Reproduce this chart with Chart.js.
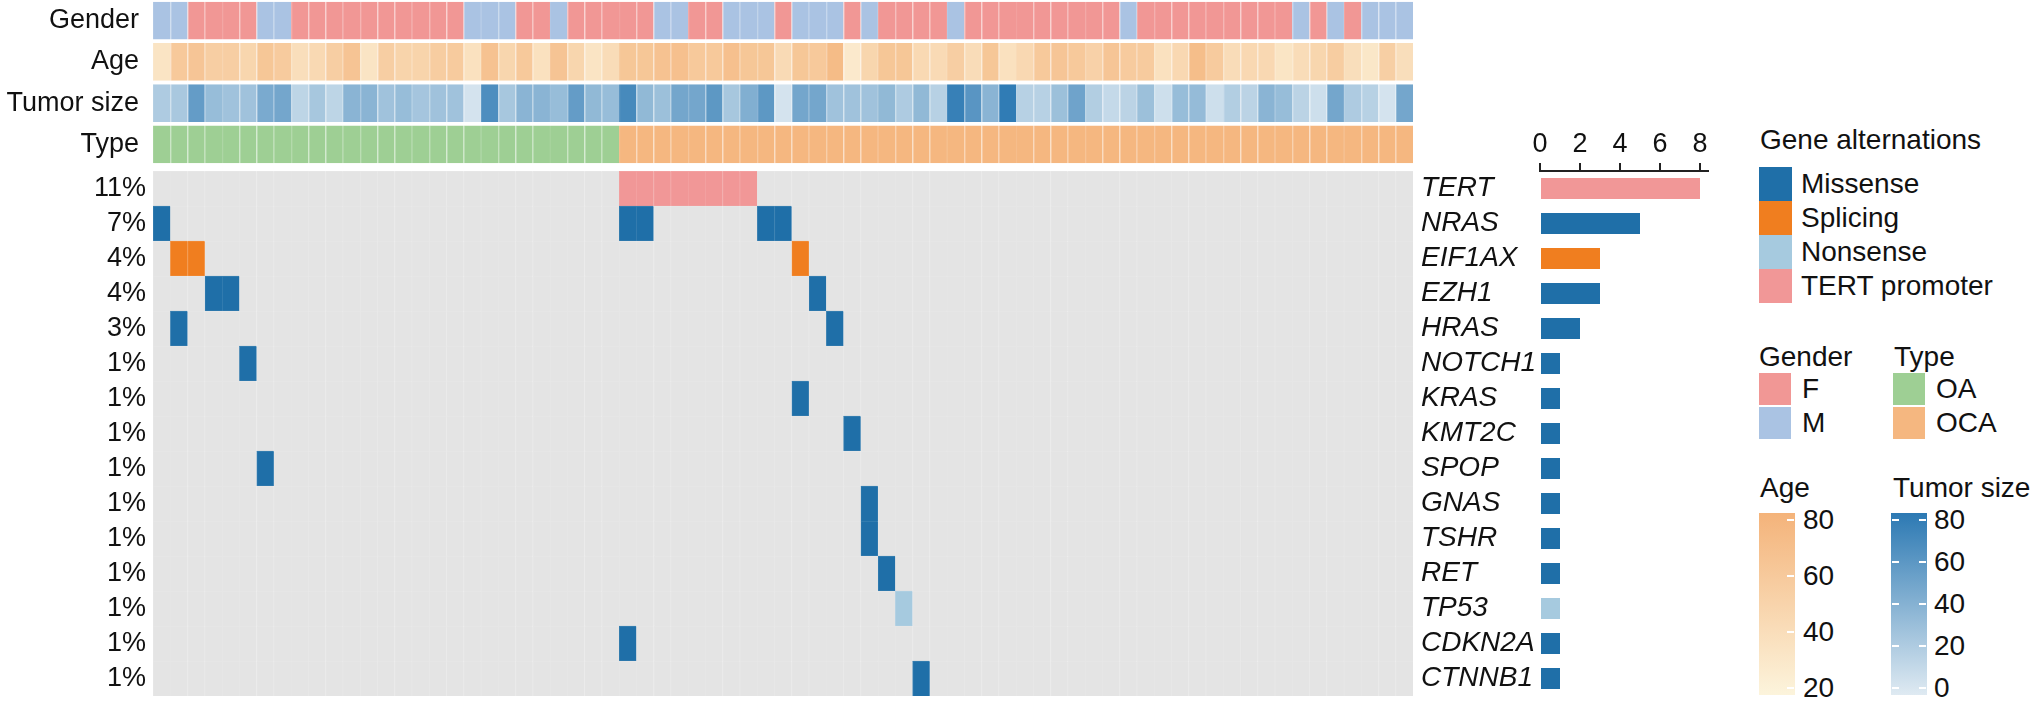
<!DOCTYPE html>
<html lang="en">
<head>
<meta charset="UTF-8">
<title>Oncoplot</title>
<script src="https://cdn.jsdelivr.net/npm/chart.js"></script>
<style>
  body { margin: 0; background: #fff; width: 2032px; height: 701px; position: relative; overflow: hidden;
         font-family: "Liberation Sans", Arial, sans-serif; color: #111; }
  canvas { position: absolute; }
  .lg { position: absolute; font-size: 28px; line-height: 32px; white-space: nowrap; }
  .sw { position: absolute; }
</style>
</head>
<body>
<canvas id="anno" width="1420" height="166" style="left:0;top:0"></canvas>
<canvas id="onco" width="1420" height="535" style="left:0;top:166px"></canvas>
<canvas id="bars" width="297" height="591" style="left:1421px;top:110px"></canvas>
<div id="legend"></div>

<script>
// ---- data ----
const annoRows = ['Gender', 'Age', 'Tumor size', 'Type'];

const gender = ['M','M','F','F','F','F','M','M','F','F','F','F','F','F','F','F','F','F','M','M','M','F','F','M','F',
                'F','F','F','F','M','M','F','F','M','M','M','F','M','M','M','F','M','F','F','F','F','M','F','F','F',
                'F','F','F','F','F','F','M','F','F','F','F','F','F','F','F','F','M','F','M','F','M','M','M'];

const age = [35,60,63,55,55,48,62,58,40,45,55,64,35,55,50,50,56,58,38,66,48,60,38,64,48,
             35,42,62,62,66,68,60,60,68,62,62,44,62,60,72,30,48,62,62,45,44,55,42,62,38,
             46,60,63,60,52,63,58,58,38,46,70,58,42,46,46,34,42,48,56,40,32,54,40];

const tumorSize = [22,24,55,32,28,28,45,48,15,25,15,38,38,28,32,26,28,28,5,65,25,38,38,32,55,
                   35,32,68,35,30,48,48,58,25,42,58,5,48,48,28,28,28,35,22,35,18,75,60,38,78,
                   18,18,30,50,20,12,16,30,8,32,33,8,20,16,38,32,16,8,48,22,18,5,48];

const sampleType = ['OA','OA','OA','OA','OA','OA','OA','OA','OA','OA','OA','OA','OA','OA','OA','OA','OA','OA',
                    'OA','OA','OA','OA','OA','OA','OA','OA','OA',
                    'OCA','OCA','OCA','OCA','OCA','OCA','OCA','OCA','OCA','OCA','OCA','OCA','OCA','OCA','OCA','OCA',
                    'OCA','OCA','OCA','OCA','OCA','OCA','OCA','OCA','OCA','OCA','OCA','OCA','OCA','OCA','OCA','OCA',
                    'OCA','OCA','OCA','OCA','OCA','OCA','OCA','OCA','OCA','OCA','OCA','OCA','OCA','OCA','OCA'];

const genes = ['TERT','NRAS','EIF1AX','EZH1','HRAS','NOTCH1','KRAS','KMT2C','SPOP','GNAS','TSHR','RET','TP53','CDKN2A','CTNNB1'];
const altType = ['TERT promoter','Missense','Splicing','Missense','Missense','Missense','Missense','Missense',
                 'Missense','Missense','Missense','Missense','Nonsense','Missense','Missense'];
// sample columns carrying each gene's alteration
const altSamples = [
  [27,28,29,30,31,32,33,34],
  [0,27,28,35,36],
  [1,2,37],
  [3,4,38],
  [1,39],
  [5],
  [37],
  [40],
  [6],
  [41],
  [41],
  [42],
  [43],
  [27],
  [44]
];
const countTicks = [0, 2, 4, 6, 8];
const ageTicks = [80, 60, 40, 20];
const sizeTicks = [80, 60, 40, 20, 0];

// ---- colours ----
const FONT = '"Liberation Sans", Arial, sans-serif';
const ALT_COL = { 'Missense': '#1f6fa8', 'Splicing': '#f07e1f', 'Nonsense': '#a6cadf', 'TERT promoter': '#f19797' };
const GENDER_COL = { F: '#f19795', M: '#aac3e3' };
const TYPE_COL = { OA: '#9ecf94', OCA: '#f5b780' };
const CELL_BG = '#e4e4e4';
const AGE_LO = '#fcf4dc', AGE_HI = '#f4b37a';
const SIZE_LO = '#dfeaf2', SIZE_HI = '#2c79b3';

function rgb(hex) {
  const v = parseInt(hex.slice(1), 16);
  return [(v >> 16) & 255, (v >> 8) & 255, v & 255];
}
function css(c) { return 'rgb(' + c.map(Math.round).join(',') + ')'; }
function mix(a, b, t) {
  t = Math.max(0, Math.min(1, t));
  const A = rgb(a), B = rgb(b);
  return css(A.map((x, i) => x + (B[i] - x) * t));
}
function lighten(c, t) {
  const A = c.startsWith('#') ? rgb(c) : c.match(/\d+/g).map(Number);
  return css(A.map(x => x + (255 - x) * t));
}
const ageColor = v => mix(AGE_LO, AGE_HI, (v - 20) / 60);
const sizeColor = v => mix(SIZE_LO, SIZE_HI, v / 80);

Chart.defaults.font.family = FONT;
Chart.defaults.color = '#111';

const nSamples = gender.length;
const counts = altSamples.map(s => s.length);
const pctLabels = counts.map(c => Math.round(c / nSamples * 100) + '%');

// ---- annotation tracks ----
function annoColors(k) {
  return [GENDER_COL[gender[k]], ageColor(age[k]), sizeColor(tumorSize[k]), TYPE_COL[sampleType[k]]];
}
new Chart(document.getElementById('anno'), {
  type: 'bar',
  data: {
    labels: annoRows,
    datasets: gender.map((g, k) => ({
      data: annoRows.map(() => [k, k + 1]),
      backgroundColor: annoColors(k),
      borderColor: annoColors(k).map(c => lighten(c, 0.08)),
      borderWidth: { left: 1, right: 0, top: 0, bottom: 0 },
      borderSkipped: false,
      grouped: false,
      barPercentage: 0.92,
      categoryPercentage: 1
    }))
  },
  options: {
    indexAxis: 'y',
    responsive: false,
    animation: false,
    events: [],
    layout: { padding: { top: 0, bottom: 1, left: 0, right: 7 } },
    scales: {
      x: { type: 'linear', min: 0, max: nSamples, display: false },
      y: {
        ticks: { font: { size: 27 }, padding: 14, autoSkip: false },
        grid: { display: false, drawTicks: false },
        border: { display: false },
        afterFit(s) { s.width = 153; s.paddingTop = 0; s.paddingBottom = 0; }
      }
    },
    plugins: { legend: { display: false }, tooltip: { enabled: false } }
  }
});

// ---- mutation matrix ----
const cellType = genes.map((g, i) => {
  const row = new Array(nSamples).fill(null);
  altSamples[i].forEach(k => { row[k] = altType[i]; });
  return row;
});
function cellColors(k) {
  return genes.map((g, i) => cellType[i][k] ? ALT_COL[cellType[i][k]] : CELL_BG);
}
new Chart(document.getElementById('onco'), {
  type: 'bar',
  data: {
    labels: genes,
    datasets: gender.map((g, k) => ({
      data: genes.map(() => [k, k + 1]),
      backgroundColor: cellColors(k),
      borderColor: cellColors(k).map(c => lighten(c, 0.12)),
      borderWidth: { left: 1, right: 0, top: 1, bottom: 0 },
      borderSkipped: false,
      grouped: false,
      barPercentage: 1,
      categoryPercentage: 1
    }))
  },
  options: {
    indexAxis: 'y',
    responsive: false,
    animation: false,
    events: [],
    layout: { padding: { top: 5, bottom: 5, left: 0, right: 7 } },
    scales: {
      x: { type: 'linear', min: 0, max: nSamples, display: false },
      y: {
        ticks: { font: { size: 27 }, padding: 7, autoSkip: false, callback: (v, i) => pctLabels[i] },
        grid: { display: false, drawTicks: false },
        border: { display: false },
        afterFit(s) { s.width = 153; s.paddingTop = 0; s.paddingBottom = 0; }
      }
    },
    plugins: { legend: { display: false }, tooltip: { enabled: false } }
  }
});

// ---- alteration counts ----
new Chart(document.getElementById('bars'), {
  type: 'bar',
  data: {
    labels: genes,
    datasets: [{
      data: counts,
      backgroundColor: altType.map(t => ALT_COL[t]),
      borderWidth: 0,
      barPercentage: 0.6,
      categoryPercentage: 1
    }]
  },
  options: {
    indexAxis: 'y',
    responsive: false,
    animation: false,
    events: [],
    layout: { padding: { top: 0, bottom: 5, left: 0, right: 10 } },
    scales: {
      x: {
        position: 'top', min: 0, max: 8.4,
        afterBuildTicks(s) { s.ticks = countTicks.map(v => ({ value: v })); },
        ticks: { font: { size: 27 }, padding: 2 },
        grid: { drawOnChartArea: false, tickLength: 8, color: '#222', lineWidth: 2 },
        border: { color: '#222', width: 2 },
        afterFit(s) { s.height = 61; s.paddingLeft = 0; s.paddingRight = 0; }
      },
      y: {
        ticks: { font: { size: 28, style: 'italic' }, crossAlign: 'far', padding: 0, autoSkip: false },
        grid: { display: false, drawTicks: false },
        border: { display: false },
        afterFit(s) { s.width = 119; s.paddingTop = 0; s.paddingBottom = 0; }
      }
    },
    plugins: { legend: { display: false }, tooltip: { enabled: false } }
  }
});

// ---- legends (html) ----
const legend = document.getElementById('legend');
function add(cls, style, text) {
  const d = document.createElement('div');
  d.className = cls;
  Object.assign(d.style, style);
  if (text !== undefined) d.textContent = text;
  legend.appendChild(d);
  return d;
}
const px = v => v + 'px';

add('lg', { left: px(1760), top: px(124) }, 'Gene alternations');
Object.keys(ALT_COL).forEach((t, i) => {
  const top = 167 + i * 34;
  add('sw', { left: px(1759), top: px(top), width: px(33), height: px(34), background: ALT_COL[t] });
  add('lg', { left: px(1801), top: px(top + 1) }, t);
});

add('lg', { left: px(1759), top: px(341) }, 'Gender');
Object.keys(GENDER_COL).forEach((g, i) => {
  const top = 373 + i * 34;
  add('sw', { left: px(1759), top: px(top), width: px(32), height: px(32), background: GENDER_COL[g] });
  add('lg', { left: px(1802), top: px(top) }, g);
});
add('lg', { left: px(1894), top: px(341) }, 'Type');
Object.keys(TYPE_COL).forEach((t, i) => {
  const top = 373 + i * 34;
  add('sw', { left: px(1893), top: px(top), width: px(32), height: px(32), background: TYPE_COL[t] });
  add('lg', { left: px(1936), top: px(top) }, t);
});

add('lg', { left: px(1760), top: px(472) }, 'Age');
add('sw', { left: px(1759), top: px(513), width: px(36), height: px(182),
            background: 'linear-gradient(to bottom,' + AGE_HI + ',' + AGE_LO + ')' });
ageTicks.forEach(v => {
  const y = 688 - (v - 20) * 2.8;
  add('sw', { left: px(1787), top: px(y - 1), width: px(7), height: px(2), background: '#fff' });
  add('lg', { left: px(1803), top: px(y - 16) }, String(v));
});

add('lg', { left: px(1893), top: px(472) }, 'Tumor size');
add('sw', { left: px(1891), top: px(513), width: px(36), height: px(182),
            background: 'linear-gradient(to bottom,' + SIZE_HI + ',' + SIZE_LO + ')' });
sizeTicks.forEach(v => {
  const y = 688 - v * 2.1;
  add('sw', { left: px(1892), top: px(y - 1), width: px(7), height: px(2), background: '#fff' });
  add('sw', { left: px(1919), top: px(y - 1), width: px(7), height: px(2), background: '#fff' });
  add('lg', { left: px(1934), top: px(y - 16) }, String(v));
});
</script>
</body>
</html>
